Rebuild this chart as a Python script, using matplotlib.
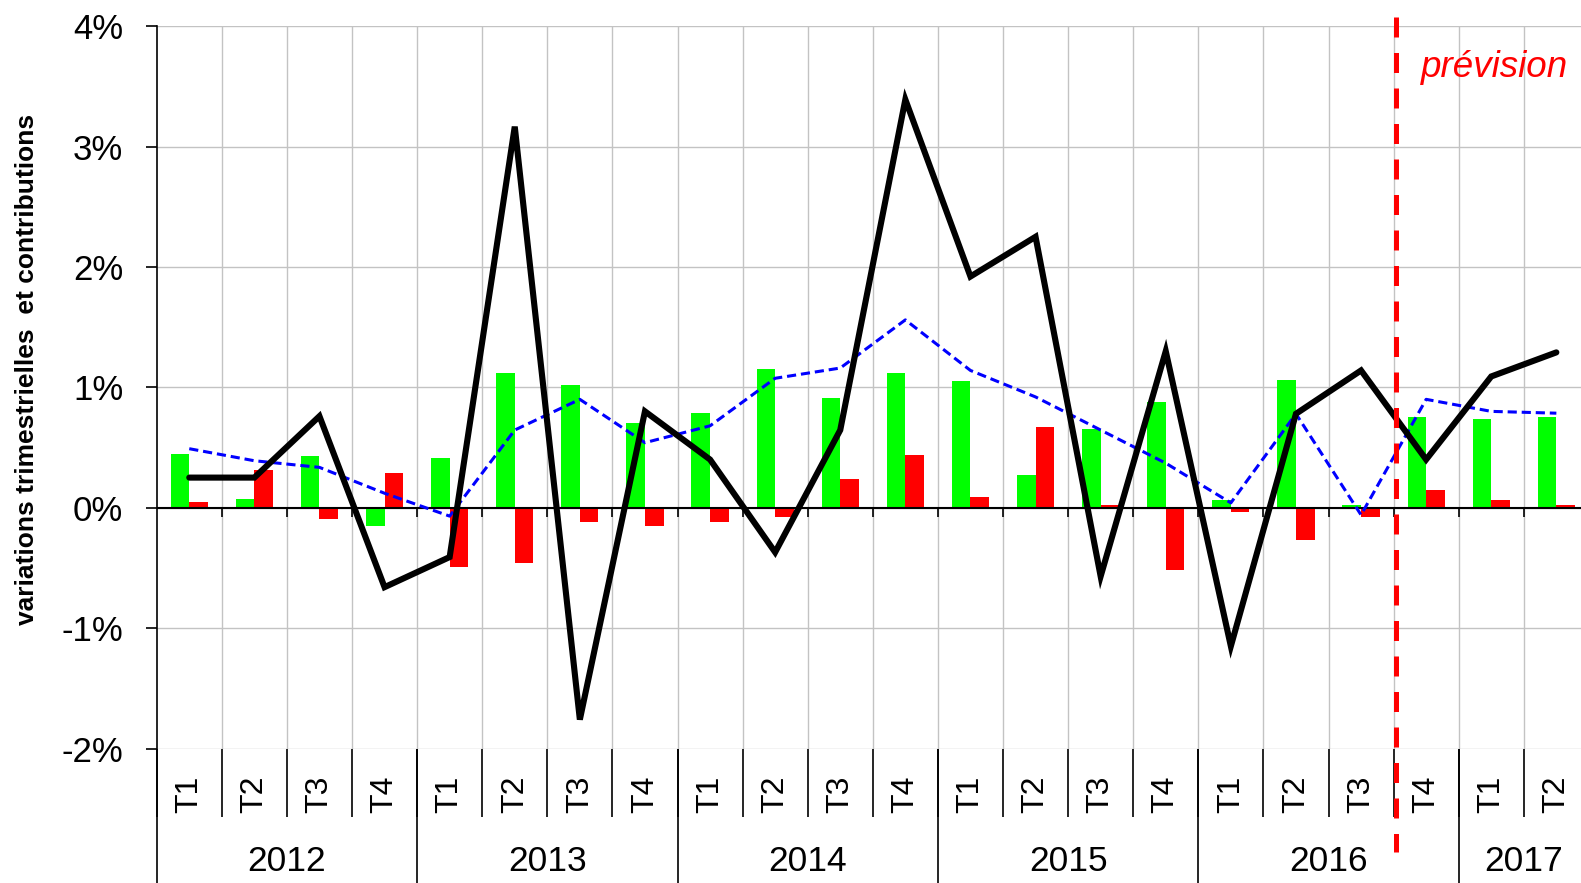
import numpy as np
import matplotlib
matplotlib.use("Agg")
import matplotlib.pyplot as plt

plt.rcParams['font.family'] = ['Liberation Sans', 'DejaVu Sans']

# quarters 2012 T1 .. 2017 T2
quarters = ["T1", "T2", "T3", "T4"] * 5 + ["T1", "T2"]
years = ["2012", "2013", "2014", "2015", "2016", "2017"]
year_len = [4, 4, 4, 4, 4, 2]

# values in %
green = [0.45, 0.075, 0.43, -0.15, 0.41, 1.12, 1.02, 0.70, 0.79, 1.15, 0.91,
         1.12, 1.05, 0.27, 0.65, 0.88, 0.06, 1.06, 0.02, 0.75, 0.74, 0.75]
red = [0.045, 0.31, -0.09, 0.29, -0.49, -0.46, -0.12, -0.15, -0.12, -0.08, 0.24,
       0.44, 0.09, 0.67, 0.02, -0.52, -0.035, -0.27, -0.08, 0.145, 0.06, 0.02]
black = [0.25, 0.25, 0.76, -0.66, -0.41, 3.165, -1.76, 0.80, 0.40, -0.37, 0.645,
         3.39, 1.92, 2.25, -0.57, 1.30, -1.15, 0.78, 1.14, 0.40, 1.09, 1.29]
blue = [0.49, 0.39, 0.335, 0.12, -0.07, 0.645, 0.90, 0.54, 0.68, 1.075, 1.16,
        1.56, 1.14, 0.92, 0.645, 0.37, 0.04, 0.78, -0.06, 0.90, 0.80, 0.785]
forecast_x = 18.54

W, H = 1581, 883
fig = plt.figure(figsize=(W / 100, H / 100), dpi=100)
# plot area runs a bit past the right edge of the picture, as in the original
ax = fig.add_axes([156.7 / W, 1 - 748.5 / H, 1432.2 / W, 722.4 / H])

x = np.arange(len(quarters))
n = len(quarters)
bounds = np.arange(-0.5, n, 1.0)
w = 0.285

ax.set_xlim(-0.5, n - 0.5)
ax.set_ylim(-2, 4)

# grid
grid_c = '#c3c3c3'
for b in bounds[1:]:
    ax.axvline(b, color=grid_c, lw=1.0, zorder=0)
for yv in range(-2, 5):
    ax.axhline(yv, color=grid_c, lw=1.0, zorder=0)

ax.bar(x - w / 2, green, w, color='#00ff00', zorder=2)
ax.bar(x + w / 2, red, w, color='#ff0000', zorder=2)

ax.axhline(0, color='black', lw=1.5, zorder=2.5)
ax.vlines(bounds[1:], -0.075, 0, color='black', lw=1.2, zorder=2.5)

ax.plot(x, blue, color='#0000ff', lw=2.2, dashes=(3, 1.6), zorder=3)
ax.plot(x, black, color='black', lw=4.4, solid_capstyle='round',
        solid_joinstyle='miter', zorder=4)

ax.plot([forecast_x, forecast_x], [4.075, -2.857], color='#ff0000', lw=3.6,
        dashes=(4, 3.1), clip_on=False, zorder=5)
ax.text(18.916, 3.58, "prévision", color='#ff0000', fontsize=26.5,
        style='italic', ha='left', va='baseline', zorder=6)

for s in ['top', 'right', 'bottom']:
    ax.spines[s].set_visible(False)
ax.spines['left'].set_linewidth(1.2)

ax.set_xticks([])
ax.set_yticks(range(-2, 5))
ax.set_yticklabels([f"{v}%" for v in range(-2, 5)])
ax.tick_params(axis='y', length=8, width=1.2, pad=16, labelsize=25)

# category axis below the plot
for i, q in enumerate(quarters):
    ax.text(i, -2.378, q, rotation=90, ha='center', va='center',
            fontsize=23, clip_on=False)
ax.vlines(bounds, -2, -2.569, color='black', lw=1.2, clip_on=False)
start = 0
year_edges = [-0.5]
for yr, L in zip(years, year_len):
    ax.text(start + (L - 1) / 2, -2.94, yr, ha='center', va='center',
            fontsize=25.5, clip_on=False)
    start += L
    year_edges.append(start - 0.5)
ax.vlines(year_edges, -2, -3.3, color='black', lw=1.2, clip_on=False)

fig.text(27 / W, 1 - 369 / H, "variations trimestrielles  et contributions",
         rotation=90, ha='center', va='center', fontsize=19, fontweight='bold')

fig.savefig("out.png", dpi=100)
